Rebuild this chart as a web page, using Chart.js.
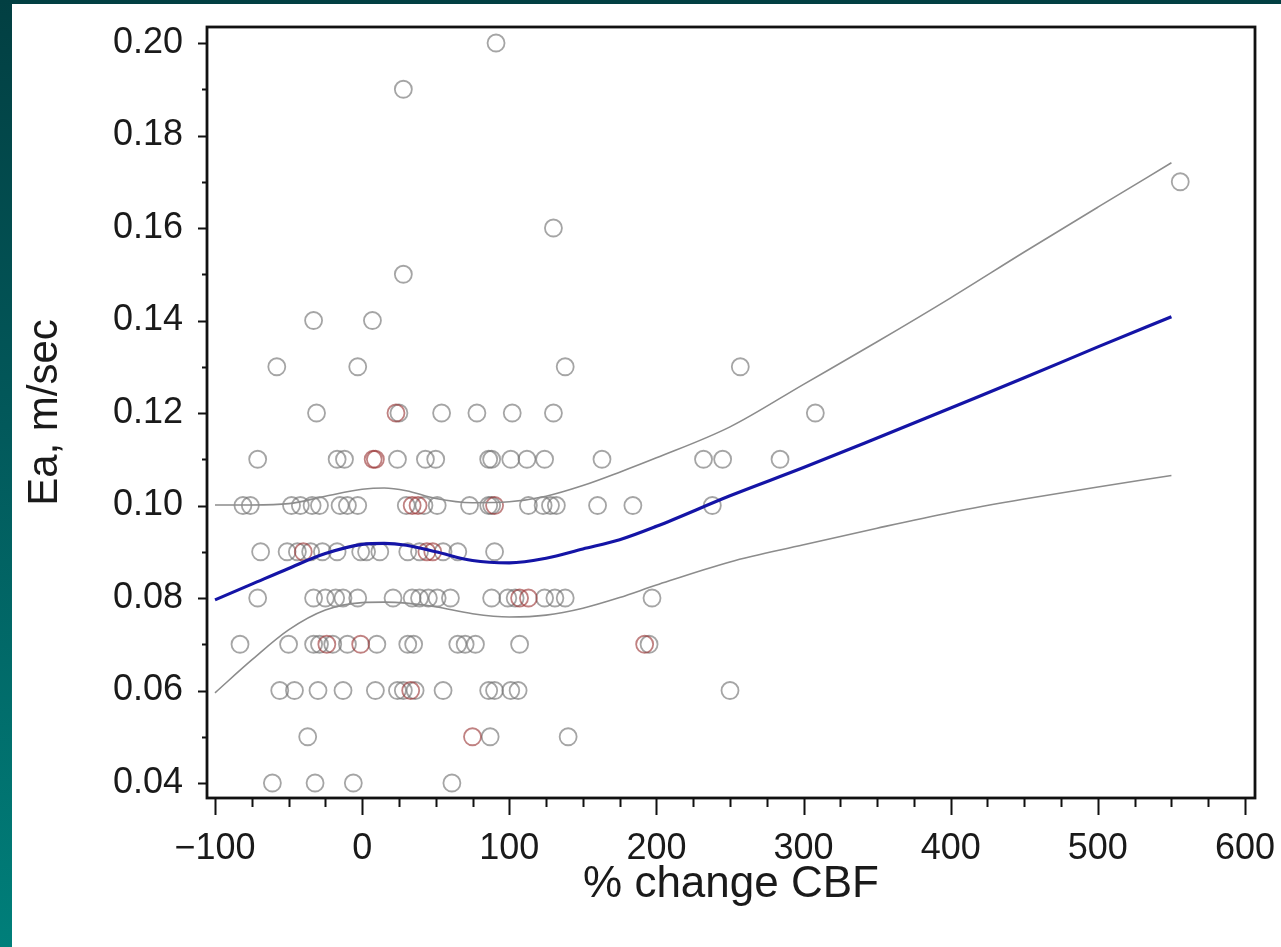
<!DOCTYPE html>
<html><head><meta charset="utf-8">
<script src="https://cdn.jsdelivr.net/npm/chart.js@4.4.1/dist/chart.umd.min.js"></script>
<style>
html,body{margin:0;padding:0;width:1281px;height:947px;overflow:hidden;background:linear-gradient(to bottom,#023f42 0%,#02595b 45%,#007f7a 100%);}
#panel{position:absolute;left:12px;top:4px;width:1269px;height:943px;background:#fff;}
canvas{display:block;}
</style></head><body>
<div id="panel"><canvas id="c" width="1269" height="943"></canvas></div>
<script>
// ---- data ----
const grayCBF = [
  91, 28, 556, 130, 28,
  -33, 7,
  -58, -3, 138, 257,
  -31, 25, 54, 78, 102, 130, 308,
  -71, -17, -12, 24, 43, 50, 86, 88, 101, 112, 124, 163, 232, 245, 284,
  -81, -76, -48, -42, -34, -29, -15, -10, -3, 30, 42, 51, 73, 86, 88, 113, 123, 128, 132, 160, 184, 238,
  -69, -51, -44, -35, -27, -17, -1, 3, 12, 31, 39, 55, 65, 90,
  -71, -33, -25, -18, -13, -3, 21, 34, 39, 45, 51, 60, 88, 99, 104, 124, 131, 138, 197,
  -83, -50, -33, -29, -20, -10, 10, 31, 35, 65, 70, 77, 107, 195,
  -56, -46, -30, -13, 9, 24, 28, 36, 55, 86, 90, 101, 106, 250,
  -37, 87, 140,
  -61, -32, -6, 61
];
const grayEa = [
  0.20, 0.19, 0.17, 0.16, 0.15,
  0.14, 0.14,
  0.13, 0.13, 0.13, 0.13,
  0.12, 0.12, 0.12, 0.12, 0.12, 0.12, 0.12,
  0.11, 0.11, 0.11, 0.11, 0.11, 0.11, 0.11, 0.11, 0.11, 0.11, 0.11, 0.11, 0.11, 0.11, 0.11,
  0.10, 0.10, 0.10, 0.10, 0.10, 0.10, 0.10, 0.10, 0.10, 0.10, 0.10, 0.10, 0.10, 0.10, 0.10, 0.10, 0.10, 0.10, 0.10, 0.10, 0.10, 0.10,
  0.09, 0.09, 0.09, 0.09, 0.09, 0.09, 0.09, 0.09, 0.09, 0.09, 0.09, 0.09, 0.09, 0.09,
  0.08, 0.08, 0.08, 0.08, 0.08, 0.08, 0.08, 0.08, 0.08, 0.08, 0.08, 0.08, 0.08, 0.08, 0.08, 0.08, 0.08, 0.08, 0.08,
  0.07, 0.07, 0.07, 0.07, 0.07, 0.07, 0.07, 0.07, 0.07, 0.07, 0.07, 0.07, 0.07, 0.07,
  0.06, 0.06, 0.06, 0.06, 0.06, 0.06, 0.06, 0.06, 0.06, 0.06, 0.06, 0.06, 0.06, 0.06,
  0.05, 0.05, 0.05,
  0.04, 0.04, 0.04, 0.04
];
const redCBF = [23, 7.5, 9, 34, 38, 90, -40, 44, 48, 107, 113, -24, -1, 192, 33, 75];
const redEa  = [0.12, 0.11, 0.11, 0.10, 0.10, 0.10, 0.09, 0.09, 0.09, 0.08, 0.08, 0.07, 0.07, 0.07, 0.06, 0.05];

const fitCBF  = [-100, -75, -50, -25, 0, 15, 30, 50, 75, 100, 125, 150, 175, 200, 250, 300, 350, 400, 450, 500, 550];
const fitEa   = [0.0796, 0.0830, 0.0864, 0.0896, 0.0916, 0.0918, 0.0914, 0.0900, 0.0881, 0.0876, 0.0886, 0.0906, 0.0926, 0.0955, 0.1021, 0.1082, 0.1146, 0.1211, 0.1276, 0.1343, 0.1408];
const upperEa = [0.1001, 0.1001, 0.1004, 0.1020, 0.1035, 0.1038, 0.1032, 0.1015, 0.1006, 0.1008, 0.1020, 0.1043, 0.1072, 0.1103, 0.1170, 0.1262, 0.1354, 0.1449, 0.1548, 0.1645, 0.1741];
const lowerEa = [0.0595, 0.0666, 0.0731, 0.0774, 0.0790, 0.0791, 0.0789, 0.0781, 0.0766, 0.0759, 0.0763, 0.0778, 0.0801, 0.0828, 0.0878, 0.0915, 0.0951, 0.0985, 0.1014, 0.1040, 0.1065];

const xMajorTicks = [-100, 0, 100, 200, 300, 400, 500, 600];
const xMinorTicks = [-75, -50, -25, 25, 50, 75, 125, 150, 175, 225, 250, 275, 325, 350, 375, 425, 450, 475, 525, 550, 575];
const yMajorTicks = [0.04, 0.06, 0.08, 0.10, 0.12, 0.14, 0.16, 0.18, 0.20];
const yMinorTicks = [0.05, 0.07, 0.09, 0.11, 0.13, 0.15, 0.17, 0.19];
const xTitle = '% change CBF';
const yTitle = 'Ea, m/sec';

// ---- build ----
const toPts = (xs, ys) => xs.map((x, i) => ({x: x, y: ys[i]}));
const FONT = '"Liberation Sans", Arial, Helvetica, sans-serif';

const frameTicks = {
  id: 'frameTicks',
  afterDraw(chart) {
    const {ctx, chartArea: a, scales: {x, y}} = chart;
    ctx.save();
    ctx.strokeStyle = '#111';
    ctx.lineWidth = 2;
    ctx.beginPath();
    yMajorTicks.forEach(v => { const p = Math.round(y.getPixelForValue(v)) + 0.5; ctx.moveTo(a.left - 9, p); ctx.lineTo(a.left, p); });
    yMinorTicks.forEach(v => { const p = Math.round(y.getPixelForValue(v)) + 0.5; ctx.moveTo(a.left - 5, p); ctx.lineTo(a.left, p); });
    xMajorTicks.forEach(v => { const p = Math.round(x.getPixelForValue(v)) + 0.5; ctx.moveTo(p, a.bottom); ctx.lineTo(p, a.bottom + 17); });
    xMinorTicks.forEach(v => { const p = Math.round(x.getPixelForValue(v)) + 0.5; ctx.moveTo(p, a.bottom); ctx.lineTo(p, a.bottom + 9); });
    ctx.stroke();
    ctx.lineWidth = 2.8;
    ctx.strokeRect(a.left, a.top, a.right - a.left, a.bottom - a.top);
    ctx.restore();
  }
};

const lineDs = (label, ys, color, width, order) => ({
  type: 'line', label, data: toPts(fitCBF, ys), borderColor: color, borderWidth: width,
  pointRadius: 0, fill: false, cubicInterpolationMode: 'monotone', order
});

new Chart(document.getElementById('c'), {
  type: 'scatter',
  data: {
    datasets: [
      lineDs('fit', fitEa, '#1414a6', 3.2, 0),
      lineDs('upper', upperEa, '#8c8c8c', 1.6, 1),
      lineDs('lower', lowerEa, '#8c8c8c', 1.6, 1),
      { label: 'red', data: toPts(redCBF, redEa), pointRadius: 8.5, pointBorderWidth: 1.8,
        pointBorderColor: 'rgba(150,45,45,0.6)', pointBackgroundColor: 'rgba(0,0,0,0)', order: 2 },
      { label: 'gray', data: toPts(grayCBF, grayEa), pointRadius: 8.5, pointBorderWidth: 1.8,
        pointBorderColor: 'rgba(110,110,110,0.62)', pointBackgroundColor: 'rgba(0,0,0,0)', order: 3 }
    ]
  },
  options: {
    responsive: false, animation: false, devicePixelRatio: 1,
    layout: { padding: { top: 23, right: 26, left: 0, bottom: 0 } },
    plugins: { legend: { display: false }, tooltip: { enabled: false } },
    scales: {
      x: {
        type: 'linear', min: -105.44, max: 606.8,
        grid: { display: false, drawTicks: false }, border: { display: false },
        afterBuildTicks: s => { s.ticks = xMajorTicks.map(v => ({value: v})); },
        afterFit: s => { s.height = 149; s.paddingLeft = 0; s.paddingRight = 0; },
        ticks: { padding: 29, color: '#1a1a1a', font: { family: FONT, size: 36 }, maxRotation: 0, autoSkip: false,
          callback: v => v < 0 ? '\u2212' + Math.abs(v) : String(v) },
        title: { display: true, text: xTitle, color: '#1a1a1a', font: { family: FONT, size: 44 }, padding: { top: 0, bottom: 36 } }
      },
      y: {
        type: 'linear', min: 0.036757, max: 0.20346,
        grid: { display: false, drawTicks: false }, border: { display: false },
        afterBuildTicks: s => { s.ticks = yMajorTicks.map(v => ({value: v})); },
        afterFit: s => { s.width = 195; s.paddingTop = 0; s.paddingBottom = 0; },
        ticks: { padding: 24, color: '#1a1a1a', font: { family: FONT, size: 36 }, autoSkip: false,
          callback: v => Number(v).toFixed(2) },
        title: { display: true, text: yTitle, color: '#1a1a1a', font: { family: FONT, size: 42 }, padding: { top: 8, bottom: 0 } }
      }
    }
  },
  plugins: [frameTicks]
});
</script>
</body></html>
